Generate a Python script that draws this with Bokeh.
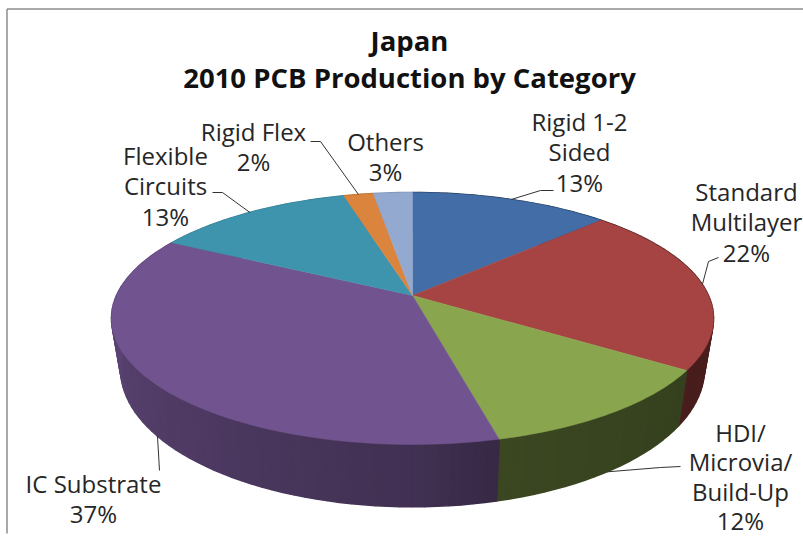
import numpy as np
from bokeh.plotting import figure
from bokeh.models import ColumnDataSource, Range1d
from bokeh.core.properties import value
from bokeh.embed import file_html
from bokeh.resources import INLINE

# ---- data
categories = ["Rigid 1-2 Sided", "Standard Multilayer", "HDI/Microvia/Build-Up",
              "IC Substrate", "Flexible Circuits", "Rigid Flex", "Others"]
shares = [12.75, 21.6, 11.8, 36.7, 12.8, 1.9, 2.5]
percent_labels = ["13%", "22%", "12%", "37%", "13%", "2%", "3%"]
top_colors = ["#426da6", "#a54442", "#89a64e", "#71548f", "#3f94ad", "#db843d", "#93a9cf"]
label_lines = [["Rigid 1-2", "Sided"], ["Standard", "Multilayer"], ["HDI/", "Microvia/", "Build-Up"],
               ["IC Substrate"], ["Flexible", "Circuits"], ["Rigid Flex"], ["Others"]]
title_lines = ["Japan", "2010 PCB Production by Category"]

# ---- layout (page pixels)
W, H = 803, 537
FONT = "Open Sans"
label_pos = [(579, 121), (746, 191), (740, 432), (93, 483), (165, 155), (253, 131), (385, 141)]
label_steps = [30.3, 30.3, 29.4, 30.0, 30.3, 30.3, 30.3]
elbows = [(540, 190, 553, 190), (708, 261, 718, 257), (660, 467, 680, 466), (159, 470, 159, 470),
          (222, 192, 212, 192), (320, 141, 310, 141), None]
leader_on_bottom = [False, False, True, True, False, False, False]
side_dim = [1, 1, 0.88, 1, 1, 1, 1]


def rim(theta_deg, cy, ax, ay, k=0.1825, cx=412.0):
    t = np.radians(theta_deg)
    w = 1 + k * np.cos(t)
    return cx + ax * np.sin(t) / w, cy - ay * np.cos(t) / w


def top_rim(t):
    return rim(t, 295.0, 296.0, 121.8)


def bottom_rim(t):
    return rim(t, 343.6, 287.0, 133.0)


def shade(hex_color, f):
    r, g, b = (int(hex_color[i:i + 2], 16) for i in (1, 3, 5))
    return "#%02x%02x%02x" % (int(r * f), int(g * f), int(b * f))


fr = np.array(shares, dtype=float)
edges = np.concatenate([[0], np.cumsum(fr) / fr.sum() * 360])

p = figure(width=W, height=H, output_backend="svg", toolbar_location=None,
           x_range=Range1d(0, W), y_range=Range1d(H, 0), min_border=0,
           x_axis_location=None, y_axis_location=None, outline_line_color=None,
           background_fill_color="white", border_fill_color="white", margin=(0, 0, 0, 0))
p.grid.visible = False

# frame
p.multi_line([[6.5, 6.5], [6.5, W]], [[H - 4, 8.5], [8.5, 8.5]], line_color="#8c8c8c", line_width=1.5)

# side wall
xs, ys, cols = [], [], []
for i, c in enumerate(top_colors):
    steps = np.arange(edges[i], edges[i + 1], 2.0)
    for a in steps:
        b = min(a + 2.0, edges[i + 1])
        mid = (a + b) / 2
        x1, y1 = top_rim(np.array([a, b]))
        x2, y2 = bottom_rim(np.array([b, a]))
        xs.append(list(x1) + list(x2))
        ys.append(list(y1) + list(y2))
        f = np.interp(mid, [90, 120, 166, 180, 230, 275], [0.46, 0.44, 0.49, 0.58, 0.72, 0.84])
        cols.append(shade(c, f * side_dim[i]))
p.patches(xs="x", ys="y", fill_color="c", line_color="c", line_width=1.5,
          source=ColumnDataSource(dict(x=xs, y=ys, c=cols)))

# top face
txs, tys = [], []
for i in range(len(shares)):
    th = np.linspace(edges[i], edges[i + 1], 80)
    x, y = top_rim(th)
    txs.append([412.0] + list(x))
    tys.append([295.0] + list(y))
p.patches(xs="x", ys="y", fill_color="c", line_color="c", line_width=0.5,
          source=ColumnDataSource(dict(x=txs, y=tys, c=top_colors)))

# leader lines: from an elbow to the rim at the middle of the slice
lx, ly = [], []
for i, e in enumerate(elbows):
    if e is None:
        continue
    mid = (edges[i] + edges[i + 1]) / 2
    rx, ry = (bottom_rim(mid) if leader_on_bottom[i] else top_rim(mid))
    lx.append([float(rx), e[0], e[2]])
    ly.append([float(ry), e[1], e[3]])
p.multi_line(lx, ly, line_color="#333333", line_width=1)

# labels
tx, ty, tt = [], [], []
for lines, pct, (x0, y0), st in zip(label_lines, percent_labels, label_pos, label_steps):
    for j, s in enumerate(lines + [pct]):
        tx.append(x0)
        ty.append(y0 + j * st)
        tt.append(s)
p.text(x="x", y="y", text="t", text_font=value(FONT), text_font_size="24px", text_color="#262626",
       text_align="center", text_baseline="middle", source=ColumnDataSource(dict(x=tx, y=ty, t=tt)))
p.text(x=[409, 409], y=[40, 77], text=title_lines, text_font=value(FONT), text_font_size="27.5px",
       text_font_style="bold", text_color="#111111", text_align="center", text_baseline="middle")

open("out.html", "w").write(file_html(p, INLINE))
